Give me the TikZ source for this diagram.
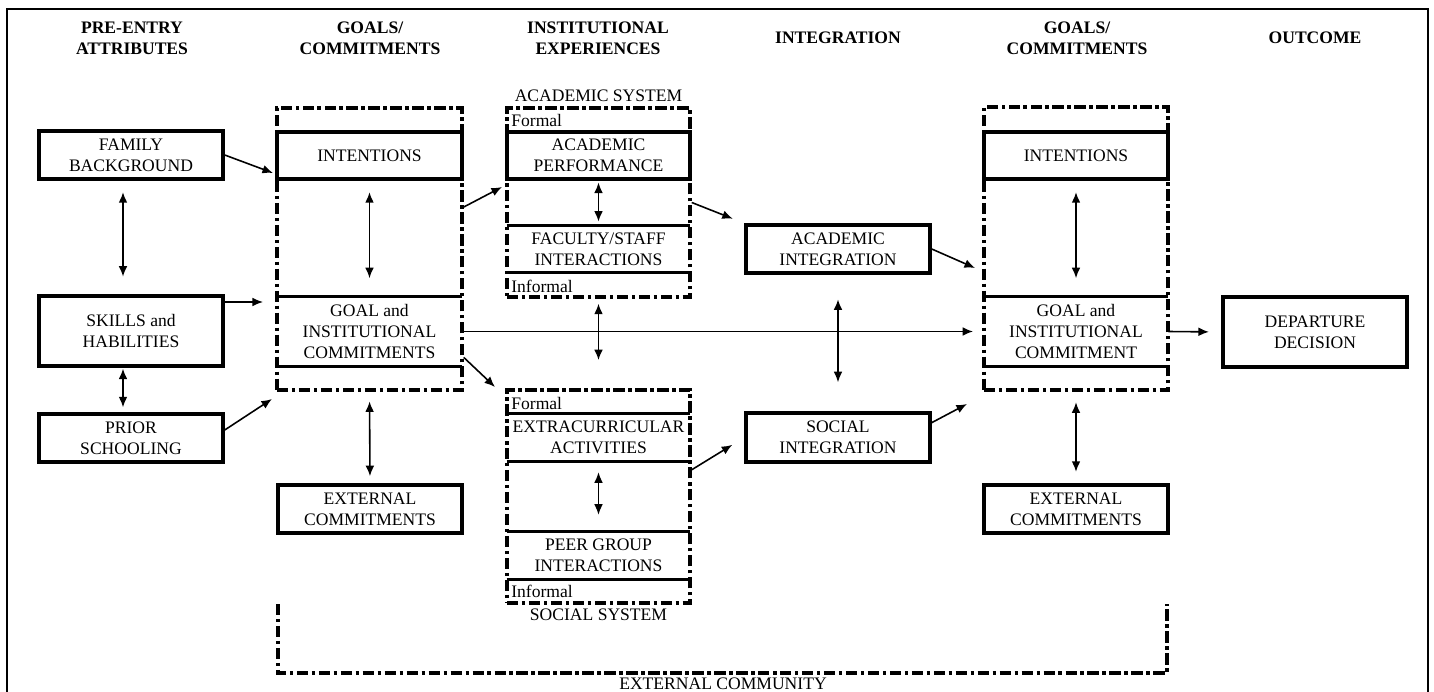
\documentclass[tikz,border=0pt]{standalone}
\usepackage{fontspec}
\setmainfont{Liberation Serif}
\usetikzlibrary{arrows.meta}

\tikzset{
  txt/.style={font=\fontsize{10}{12}\selectfont, align=center, inner sep=0pt},
  head/.style={txt, font=\fontsize{10}{12}\selectfont\bfseries},
  box/.style={txt, draw, line width=2pt, minimum width=3.68cm, minimum height=0.96cm},
  band/.style={txt, minimum width=3.68cm, minimum height=0.96cm},
  bar/.style={line width=2pt},
  dashdot/.style={line width=2pt, dash pattern=on 6.5pt off 2pt on 2pt off 2pt},
  cont/.style={txt, draw, dashdot},
  tag/.style={txt, anchor=west},
  arr/.style={line width=0.9pt, -{Latex[length=6pt,width=5pt]}},
  dbl/.style={line width=0.9pt, {Latex[length=6pt,width=5pt]}-{Latex[length=6pt,width=5pt]}},
}

\begin{document}
\begin{tikzpicture}[x=0.02cm,y=-0.02cm]
  \useasboundingbox (0,0) rectangle (1434,692);
  \draw[line width=0.7pt] (7,692) -- (7,9) -- (1428,9) -- (1428,692);

  % column heads
  \node (hPre) at (132,38) [head] {PRE-ENTRY\\ATTRIBUTES};
  \node (hGoalL) at (370,38) [head] {GOALS/\\COMMITMENTS};
  \node (hInst) at (598,38) [head] {INSTITUTIONAL\\EXPERIENCES};
  \node (hIntg) at (838,38) [head] {INTEGRATION};
  \node (hGoalR) at (1077,38) [head] {GOALS/\\COMMITMENTS};
  \node (hOut) at (1315,38) [head] {OUTCOME};

  % dash-dot groups
  \node (gL) at (369.5,249) [cont,minimum width=3.70cm,minimum height=5.64cm] {};
  \node (acS) at (598.5,202.5) [cont,minimum width=3.66cm,minimum height=3.78cm] {};
  \node (soS) at (598.5,496.5) [cont,minimum width=3.66cm,minimum height=4.26cm] {};
  \node (gR) at (1076,248.5) [cont,minimum width=3.68cm,minimum height=5.66cm] {};
  \draw[dashdot] (278,604) -- (278,673) -- (1167,673) -- (1167,604);
  \node (comm) at (723,684) [txt] {EXTERNAL COMMUNITY};

  % pre-entry attributes
  \node (fam) at (131,155) [box] {FAMILY\\BACKGROUND};
  \node (skl) at (131,331) [box,minimum height=1.40cm] {SKILLS and\\HABILITIES};
  \node (pri) at (131,438) [box] {PRIOR\\SCHOOLING};

  % goals, left
  \node (intL) at (369.5,155.5) [box,minimum width=3.70cm,minimum height=0.94cm] {INTENTIONS};
  \node (golL) at (369.5,331.5) [band,minimum width=3.70cm,minimum height=1.38cm] {GOAL and\\INSTITUTIONAL\\COMMITMENTS};
  \node (exL) at (370,509) [box] {EXTERNAL\\COMMITMENTS};

  % academic system
  \node (acLbl) at (598.5,96) [txt] {ACADEMIC SYSTEM};
  \node (acF) at (511,120) [tag] {Formal};
  \node (ap) at (598.5,155.5) [box,minimum width=3.66cm,minimum height=0.94cm] {ACADEMIC\\PERFORMANCE};
  \node (fac) at (598.5,249) [band,minimum width=3.66cm,minimum height=0.92cm] {FACULTY/STAFF\\INTERACTIONS};
  \node (acIf) at (511,286) [tag] {Informal};

  % social system
  \node (soF) at (511,403) [tag] {Formal};
  \node (ex) at (598.5,437.5) [band,minimum width=3.66cm,minimum height=0.94cm] {EXTRACURRICULAR\\ACTIVITIES};
  \node (peer) at (598.5,555.5) [band,minimum width=3.66cm,minimum height=0.94cm] {PEER GROUP\\INTERACTIONS};
  \node (soIf) at (511,591) [tag] {Informal};
  \node (soLbl) at (598.5,615) [txt] {SOCIAL SYSTEM};

  % integration
  \node (acI) at (838,249) [box] {ACADEMIC\\INTEGRATION};
  \node (soI) at (838,437.5) [box,minimum height=0.98cm] {SOCIAL\\INTEGRATION};

  % goals, right + outcome
  \node (intR) at (1076,155.5) [box,minimum height=0.94cm] {INTENTIONS};
  \node (golR) at (1076,331.5) [band,minimum height=1.38cm] {GOAL and\\INSTITUTIONAL\\COMMITMENT};
  \node (exR) at (1076,509) [box] {EXTERNAL\\COMMITMENTS};
  \node (dep) at (1315,332) [box,minimum height=1.40cm] {DEPARTURE\\DECISION};

  \foreach \n in {golL,fac,ex,peer,golR}
    \draw[bar] (\n.north west) -- (\n.north east) (\n.south west) -- (\n.south east);

  % arrows
  \coordinate (pF) at (273,173);
  \coordinate (pS) at (263,302);
  \coordinate (pP) at (272,399);
  \coordinate (pA) at (502,187);
  \coordinate (pSo) at (495,387);
  \coordinate (pR1) at (975,268);
  \coordinate (pR2) at (967,404);

  \draw[arr] (fam.east) -- (pF);
  \draw[dbl,shorten <=6.5pt,shorten >=10pt] ([xshift=-0.16cm]fam.south) -- ([xshift=-0.16cm]skl.north);
  \draw[arr] ([yshift=0.58cm]skl.east) -- (pS);
  \draw[dbl,shorten <=0.5pt,shorten >=2.8pt] ([xshift=-0.16cm]skl.south) -- ([xshift=-0.16cm]pri.north);
  \draw[arr] ([yshift=0.16cm]pri.east) -- (pP);
  \draw[dbl,shorten <=6.5pt,shorten >=10.5pt] (intL.south) -- (golL.north);
  \draw[dbl,shorten <=5.5pt,shorten >=4pt] (gL.south) -- (exL.north);
  \draw[arr] (gL.24) -- (pA);
  \draw[arr,shorten >=6pt] (golL.east) -- (golR.west);
  \draw[arr] (gL.-49) -- (pSo);
  \draw[dbl,shorten <=1pt,shorten >=2.3pt] (ap.south) -- (fac.north);
  \draw[dbl,shorten <=2.8pt,shorten >=16pt] (acS.south) -- (soS.north);
  \draw[dbl,shorten <=6.2pt,shorten >=9.6pt] (ex.south) -- (peer.north);
  \draw[arr,shorten >=7pt] (acS.east) -- (acI.north west);
  \draw[arr,shorten >=8pt] (soS.16) -- (soI.west);
  \draw[dbl,shorten <=14pt,shorten >=16.5pt] (acI.south) -- (soI.north);
  \draw[arr] (acI.east) -- (pR1);
  \draw[arr] (soI.9) -- (pR2);
  \draw[arr,shorten >=7pt] (golR.east) -- (dep.west);
  \draw[dbl,shorten <=6.5pt,shorten >=10.5pt] (intR.south) -- (golR.north);
  \draw[dbl,shorten <=6pt,shorten >=6.5pt] (gR.south) -- (exR.north);
\end{tikzpicture}
\end{document}
